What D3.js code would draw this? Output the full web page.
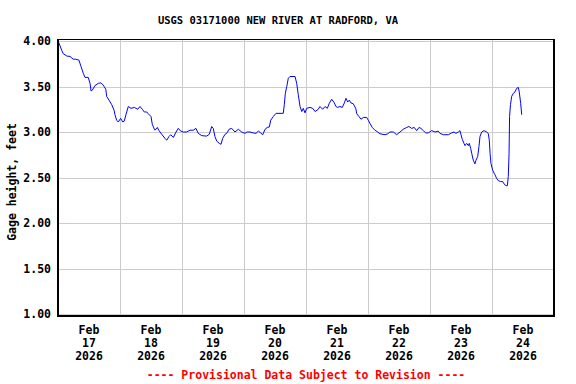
<!DOCTYPE html>
<html><head><meta charset="utf-8">
<script src="https://cdn.jsdelivr.net/npm/d3@7"></script>
<style>body{margin:0;background:#fff}svg{display:block}text{font-family:"DejaVu Sans Mono",monospace;font-weight:bold}</style>
</head><body>
<script>
const title = "USGS 03171000 NEW RIVER AT RADFORD, VA";
const yLabel = "Gage height, feet";
const footer = "---- Provisional Data Subject to Revision ----";
const yTicks = [1.0, 1.5, 2.0, 2.5, 3.0, 3.5, 4.0];
const dayLabels = ["17","18","19","20","21","22","23","24"];
const monthLabel = "Feb";
const yearLabel = "2026";
// hours since 2026-02-17 00:00
const hours = [0,0.4,1.4,2.05,3.4,4.65,5.9,6.85,8.1,8.9,9.8,10.45,11.7,12.4,12.8,13.3,14.3,15.6,16.65,17.5,18.5,18.85,19.75,20.8,21.7,22.05,22.7,23.35,24.25,25.05,25.65,26.3,27.2,28.25,29.55,30.85,31.75,32.65,33.4,34.35,34.95,36,36.5,37.3,37.55,38.45,39.1,40.15,41.4,42.1,42.95,43.65,44.65,45.7,46.55,47.5,48.5,49.8,51.1,52.4,53.4,54.3,55.65,57.55,58.55,59.5,60.1,60.75,61.45,62.45,63.1,63.75,64.65,65.3,66.2,67.25,68.5,69.8,71.1,72.4,73.15,74.3,75.6,76.65,77.55,78.45,79.25,80.15,81,81.8,82.35,83.35,84.4,87.2,87.6,88,88.55,89.15,89.8,91.75,92.4,93,93.7,94.35,94.95,95.6,96.25,97.55,98.6,99.5,100.75,101.4,102.45,103.35,104.25,105,105.95,106.85,107.6,108.25,109.15,110.05,110.85,111.5,112.15,112.75,113.4,114.3,115.25,115.65,116.5,117.3,118.2,119.5,120.1,120.75,121.65,122.7,123.75,124.65,126.6,127.65,128.5,129.8,131.1,132.4,133.65,135,135.85,136.9,137.9,138.85,139.75,140.5,141.4,142.35,143.35,144.65,145.95,147.2,147.85,149.15,151.1,152.4,153.3,154.05,154.95,155.6,156,156.5,157.15,157.55,158.2,158.85,159.2,159.75,160.15,160.75,161.4,161.8,162.45,162.95,163.35,164,164.9,165.95,166.55,166.95,167.25,167.6,168.25,169.15,169.8,170.45,171.35,172.15,172.65,173.4,173.95,174.3,174.6,174.8,175.15,175.6,176.25,176.9,177.55,178.2,178.55,179.1,179.5];
const gage = [4.00,3.975,3.90,3.86,3.835,3.83,3.80,3.80,3.79,3.72,3.645,3.60,3.60,3.535,3.45,3.46,3.51,3.535,3.54,3.515,3.47,3.39,3.35,3.30,3.24,3.19,3.13,3.11,3.15,3.11,3.12,3.19,3.28,3.26,3.27,3.25,3.28,3.25,3.22,3.22,3.20,3.17,3.085,3.03,3.02,3.05,3.015,2.975,2.93,2.91,2.95,2.97,2.94,3.00,3.04,3.01,3.00,3.00,3.02,3.02,3.04,2.985,2.96,2.955,2.975,3.06,3.04,2.95,2.90,2.875,2.865,2.93,2.975,2.985,3.03,3.04,3.00,3.03,3.00,2.985,3.00,3.00,2.99,2.985,3.01,2.99,2.97,3.03,3.05,3.055,3.13,3.17,3.205,3.205,3.30,3.425,3.50,3.59,3.61,3.61,3.535,3.41,3.28,3.225,3.26,3.21,3.26,3.27,3.26,3.225,3.25,3.28,3.25,3.28,3.26,3.315,3.36,3.325,3.28,3.27,3.28,3.27,3.32,3.37,3.33,3.35,3.32,3.31,3.26,3.20,3.17,3.14,3.16,3.16,3.13,3.095,3.05,3.02,3.00,2.98,2.97,2.98,3.00,3.00,2.97,3.00,3.03,3.05,3.06,3.04,3.05,3.015,3.05,3.04,3.015,2.99,2.99,3.015,3.00,3.01,2.985,2.97,2.97,2.99,3.00,2.985,3.00,3.015,2.97,2.92,2.875,2.85,2.875,2.85,2.875,2.82,2.765,2.69,2.65,2.69,2.73,2.84,2.95,3.00,3.015,3.00,2.985,2.91,2.765,2.655,2.58,2.53,2.49,2.465,2.455,2.455,2.43,2.41,2.41,2.51,2.765,3.17,3.30,3.39,3.425,3.44,3.48,3.49,3.44,3.315,3.19];

const W = 576, H = 384;
const start = new Date(2026, 1, 17, 0, 0);
const end = new Date(2026, 1, 25, 0, 0);
const data = hours.map((h, i) => ({t: new Date(start.getTime() + h * 3600e3), v: gage[i]}));

const svg = d3.select("body").append("svg").attr("width", W).attr("height", H);
const x = d3.scaleTime().domain([start, end]).range([58, 554]);
const y = d3.scaleLinear().domain([1, 4]).range([314, 41]);

// gridlines
const days = d3.timeDay.range(d3.timeDay.offset(start, 1), end);
svg.append("g").selectAll("line").data(days).join("line")
  .attr("x1", d => Math.round(x(d)) + 0.5).attr("x2", d => Math.round(x(d)) + 0.5)
  .attr("y1", 39).attr("y2", 316).attr("stroke", "#cccccc").attr("stroke-width", 1);
svg.append("g").selectAll("line").data(yTicks).join("line")
  .attr("x1", 58).attr("x2", 554)
  .attr("y1", d => Math.round(y(d)) + 0.5).attr("y2", d => Math.round(y(d)) + 0.5)
  .attr("stroke", "#cccccc").attr("stroke-width", 1);

// data line
svg.append("path").datum(data)
  .attr("fill", "none").attr("stroke", "#0000ff").attr("stroke-width", 1)
  .attr("d", d3.line().x(d => x(d.t)).y(d => y(d.v)));

// frame
svg.append("line").attr("x1", 57).attr("x2", 555).attr("y1", 39.5).attr("y2", 39.5).attr("stroke", "#000").attr("stroke-width", 1);
svg.append("line").attr("x1", 58).attr("x2", 58).attr("y1", 39).attr("y2", 317).attr("stroke", "#000").attr("stroke-width", 2);
svg.append("line").attr("x1", 554).attr("x2", 554).attr("y1", 39).attr("y2", 317).attr("stroke", "#000").attr("stroke-width", 2);
svg.append("line").attr("x1", 57).attr("x2", 555).attr("y1", 316).attr("y2", 316).attr("stroke", "#000").attr("stroke-width", 2);

// y tick labels
svg.append("g").selectAll("text").data(yTicks).join("text")
  .attr("x", 51).attr("y", d => y(d) + 4)
  .attr("text-anchor", "end").attr("font-size", "11.5px").attr("fill", "#000")
  .text(d => d3.format(".2f")(d));

// x labels at noon of each day
const noons = dayLabels.map((d, i) => d3.timeHour.offset(start, 12 + 24 * i));
const xl = svg.append("g").selectAll("text").data(noons).join("text")
  .attr("text-anchor", "middle").attr("font-size", "11.5px").attr("fill", "#000");
xl.append("tspan").attr("x", d => x(d)).attr("y", 334).text(monthLabel);
xl.append("tspan").attr("x", d => x(d)).attr("y", 347).text((d, i) => dayLabels[i]);
xl.append("tspan").attr("x", d => x(d)).attr("y", 360).text(yearLabel);

// title
svg.append("text").attr("x", 278).attr("y", 24).attr("text-anchor", "middle")
  .attr("font-size", "10.5px").attr("fill", "#000").text(title);

// y label
svg.append("text").attr("transform", "translate(16,182) rotate(-90)")
  .attr("text-anchor", "middle").attr("font-size", "11.5px").attr("fill", "#000").text(yLabel);

// footer
svg.append("text").attr("x", 306).attr("y", 379).attr("text-anchor", "middle")
  .attr("font-size", "11.5px").attr("fill", "#ff0000").text(footer);
</script>
</body></html>
